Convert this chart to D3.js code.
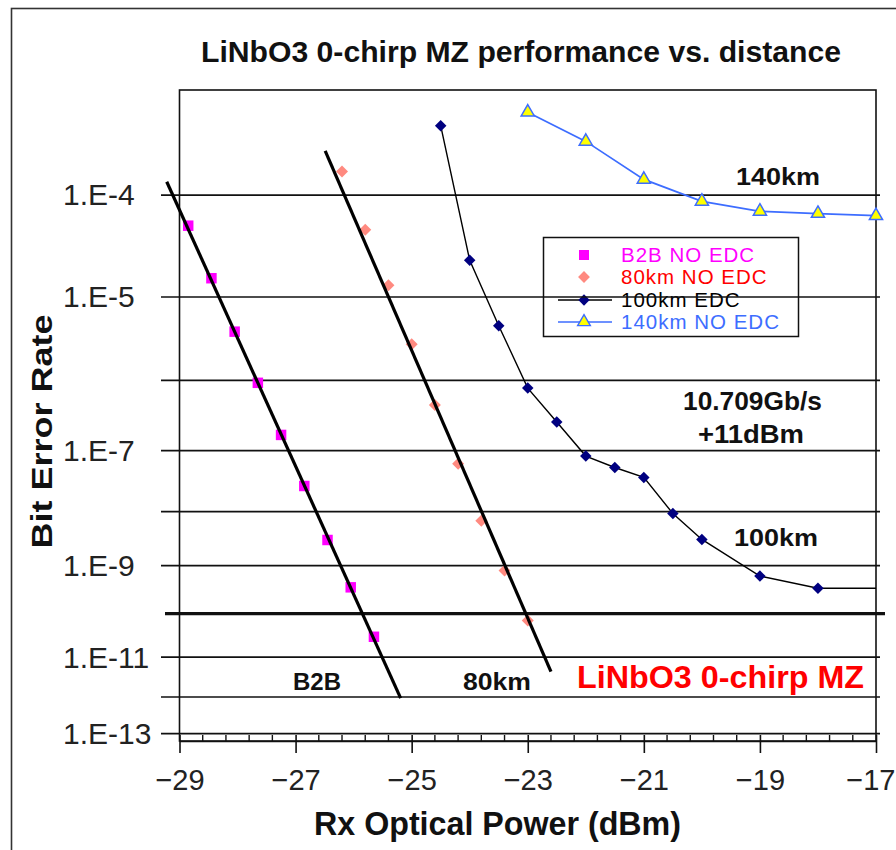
<!DOCTYPE html>
<html>
<head>
<meta charset="utf-8">
<script src="https://cdn.jsdelivr.net/npm/d3@7"></script>
<style>
  body { margin: 0; background: #fff; }
  svg { display: block; }
  text { font-family: "Liberation Sans", Arial, sans-serif; }
</style>
</head>
<body>
<svg id="chart" width="896" height="850"></svg>
<script>
// Received optical power (dBm) and measured bit error rate per link
const b2bPower = [-28.85, -28.45, -28.05, -27.65, -27.25, -26.85, -26.45, -26.05, -25.65];
const b2bBer   = [5.22e-5, 1.57e-5, 3.98e-6, 9.12e-7, 1.70e-7, 2.69e-8, 3.02e-9, 3.55e-10, 2.95e-11];

const km80Power = [-26.2, -25.8, -25.4, -25.0, -24.6, -24.2, -23.8, -23.4, -23.0];
const km80Ber   = [1.57e-4, 4.79e-5, 1.32e-5, 2.82e-6, 4.57e-7, 6.17e-8, 6.76e-9, 7.76e-10, 6.92e-11];

const km100Power = [-24.5, -24, -23.5, -23, -22.5, -22, -21.5, -21, -20.5, -20, -19, -18];
const km100Ber   = [3.63e-4, 2.40e-5, 4.68e-6, 7.76e-7, 2.63e-7, 8.13e-8, 5.37e-8, 3.72e-8, 9.12e-9, 3.09e-9, 6.03e-10, 3.39e-10];

const km140Power = [-23, -22, -21, -20, -19, -18, -17];
const km140Ber   = [4.57e-4, 2.75e-4, 1.35e-4, 8.71e-5, 7.08e-5, 6.76e-5, 6.46e-5];

// Straight-line fits through the B2B and 80 km measurements
const b2bFitPower  = [-29.22, -25.19];
const b2bFitBer    = [1.29e-4, 9.1e-13];
const km80FitPower = [-26.49, -22.60];
const km80FitBer   = [2.31e-4, 4.33e-12];

// Axis ticks
const berTicks      = [1e-4, 1e-5, 1e-6, 1e-7, 1e-8, 1e-9, 1e-10, 1e-11, 1e-12, 1e-13];
const berTickLabels = ["1.E-4", "1.E-5", "", "1.E-7", "", "1.E-9", "", "1.E-11", "", "1.E-13"];
const powerTicks    = [-29, -27, -25, -23, -21, -19, -17];
const powerMinorStep = 0.4;
const refBer = 1e-10;

const seriesNames = ["B2B NO EDC", "80km NO EDC", "100km EDC", "140km NO EDC"];

// ---------------------------------------------------------------
const svg = d3.select("#chart");
const W = 896, H = 850;
const plot = { left: 179.5, right: 876, top: 90, bottom: 741 };

const zip = (xs, ys) => xs.map((p, i) => ({ p, ber: ys[i] }));
const b2b = zip(b2bPower, b2bBer);
const km80 = zip(km80Power, km80Ber);
const km100 = zip(km100Power, km100Ber);
const km140 = zip(km140Power, km140Ber);

// BER axis: linear in log10(-log10(BER))
const q = ber => Math.log10(-Math.log10(ber));
const yq = d3.scaleLinear().domain([0.5027, 1.1215]).range([plot.top, plot.bottom]);
const y = ber => yq(q(ber));
const x = d3.scaleLinear().domain([-29, -17]).range([plot.left, plot.right]);

const COL = {
  b2b: "#ff00ff", km80: "#ff8a80", km80Text: "#ff0000",
  km100: "#000080", km140: "#3d6dff", tri: "#ffff00", red: "#ff0000"
};

// Outer frame
svg.append("rect")
  .attr("x", 11.5).attr("y", 8.5).attr("width", W + 20).attr("height", H + 20)
  .attr("fill", "none").attr("stroke", "#333").attr("stroke-width", 1.6);

// Title
svg.append("text")
  .attr("x", 201).attr("y", 62)
  .attr("font-size", 29).attr("font-weight", "bold").attr("fill", "#111")
  .attr("textLength", 640).attr("lengthAdjust", "spacingAndGlyphs")
  .text("LiNbO3 0-chirp MZ performance vs. distance");

// Legend (transparent box; grid lines run through it)
const lg = svg.append("g");
lg.append("rect")
  .attr("x", 543.5).attr("y", 237.5).attr("width", 255).attr("height", 99)
  .attr("fill", "none").attr("stroke", "#111").attr("stroke-width", 1.5);
const rowY = [255, 277, 300, 322];
const mx = 584;
lg.append("path").attr("d", d3.symbol(d3.symbolSquare, 100)())
  .attr("transform", `translate(${mx},${rowY[0]})`).attr("fill", COL.b2b);
lg.append("path").attr("d", d3.symbol(d3.symbolSquare, 70)())
  .attr("transform", `translate(${mx},${rowY[1]}) rotate(45)`).attr("fill", COL.km80);
lg.append("line").attr("x1", 558).attr("x2", 612).attr("y1", rowY[2]).attr("y2", rowY[2])
  .attr("stroke", "#000").attr("stroke-width", 1.4);
lg.append("path").attr("d", d3.symbol(d3.symbolSquare, 64)())
  .attr("transform", `translate(${mx},${rowY[2]}) rotate(45)`).attr("fill", COL.km100);
lg.append("line").attr("x1", 558).attr("x2", 612).attr("y1", rowY[3]).attr("y2", rowY[3])
  .attr("stroke", COL.km140).attr("stroke-width", 1.6);
lg.append("path").attr("d", d3.symbol(d3.symbolTriangle, 70)())
  .attr("transform", `translate(${mx},${rowY[3]})`)
  .attr("fill", COL.tri).attr("stroke", COL.km140).attr("stroke-width", 1.4);
const legendColors = [COL.b2b, COL.km80Text, "#000", COL.km140];
lg.selectAll("text.lab").data(seriesNames).join("text")
  .attr("class", "lab")
  .attr("x", 621).attr("y", (d, i) => rowY[i]).attr("dy", "0.36em")
  .attr("font-size", 20.5).attr("letter-spacing", 1).attr("fill", (d, i) => legendColors[i])
  .text(d => d);

// Horizontal BER grid lines with outward ticks
const gridLeft = 161, gridRight = 880;
const yAxis = d3.axisLeft(yq)
  .tickValues(berTicks.map(q))
  .tickSize(-(gridRight - gridLeft))
  .tickFormat("");
const gy = svg.append("g").attr("transform", `translate(${gridLeft},0)`).call(yAxis);
gy.select(".domain").remove();
gy.selectAll(".tick line")
  .attr("stroke", "#111")
  .attr("stroke-width", (d, i) => berTicks[i] === refBer ? 3.2 : 1.7)
  .attr("x1", (d, i) => berTicks[i] === refBer ? 4 : 0)
  .attr("x2", (d, i) => berTicks[i] === refBer ? (gridRight - gridLeft) + 5 : (gridRight - gridLeft));

// BER tick labels, left aligned
svg.append("g").selectAll("text").data(berTicks).join("text")
  .attr("x", 63).attr("y", d => y(d)).attr("dy", "0.36em")
  .attr("font-size", 30).attr("fill", "#222")
  .text((d, i) => berTickLabels[i]);

// Plot border
svg.append("rect")
  .attr("x", plot.left).attr("y", plot.top)
  .attr("width", plot.right - plot.left).attr("height", plot.bottom - plot.top)
  .attr("fill", "none").attr("stroke", "#111").attr("stroke-width", 1.6);

// Power axis: major ticks cross the axis line, minor ticks point inward
const xAxis = d3.axisBottom(x).tickValues(powerTicks).tickSize(12).tickSizeOuter(0)
  .tickFormat(d3.format("d")).tickPadding(14);
const gx = svg.append("g").attr("transform", `translate(0,${plot.bottom})`).call(xAxis);
gx.select(".domain").attr("stroke", "#111").attr("stroke-width", 1.6);
gx.selectAll(".tick line").attr("y1", -6).attr("stroke", "#111").attr("stroke-width", 1.6);
gx.selectAll(".tick text")
  .attr("font-family", "'Liberation Sans', Arial, sans-serif")
  .attr("font-size", 29).attr("fill", "#222").attr("dy", "0.8em")
  .each(function (d) {
    // keep the last label inside the page edge
    const half = this.getComputedTextLength() / 2;
    const over = x(d) + half - (W - 1);
    if (over > 0) d3.select(this).attr("x", -over);
  });
const minor = d3.range(-29, -17 + 1e-9, powerMinorStep)
  .filter(v => !powerTicks.some(t => Math.abs(t - v) < 1e-6));
gx.selectAll("line.minor").data(minor).join("line")
  .attr("class", "minor")
  .attr("x1", d => x(d)).attr("x2", d => x(d))
  .attr("y1", -6).attr("y2", 0)
  .attr("stroke", "#111").attr("stroke-width", 1.4);

// Axis titles
svg.append("text")
  .attr("x", 314).attr("y", 835)
  .attr("font-size", 33).attr("font-weight", "bold").attr("fill", "#111")
  .attr("textLength", 367).attr("lengthAdjust", "spacingAndGlyphs")
  .text("Rx Optical Power (dBm)");
svg.append("text")
  .attr("transform", "translate(51.5,431.5) rotate(-90)")
  .attr("text-anchor", "middle")
  .attr("font-size", 30).attr("font-weight", "bold").attr("fill", "#111")
  .attr("textLength", 234).attr("lengthAdjust", "spacingAndGlyphs")
  .text("Bit Error Rate");

// Series lines
const line = d3.line().x(d => x(d.p)).y(d => y(d.ber));
const km100Line = km100.concat([{ p: x.domain()[1], ber: km100[km100.length - 1].ber }]);
svg.append("path").attr("d", line(km100Line))
  .attr("fill", "none").attr("stroke", "#000").attr("stroke-width", 1.4);
svg.append("path").attr("d", line(km140))
  .attr("fill", "none").attr("stroke", COL.km140).attr("stroke-width", 1.7);

// Markers
svg.append("g").selectAll("path").data(b2b).join("path")
  .attr("d", d3.symbol(d3.symbolSquare, 110)())
  .attr("transform", d => `translate(${x(d.p)},${y(d.ber)})`)
  .attr("fill", COL.b2b);
svg.append("g").selectAll("path").data(km80).join("path")
  .attr("d", d3.symbol(d3.symbolSquare, 72)())
  .attr("transform", d => `translate(${x(d.p)},${y(d.ber)}) rotate(45)`)
  .attr("fill", COL.km80);
svg.append("g").selectAll("path").data(km100).join("path")
  .attr("d", d3.symbol(d3.symbolSquare, 66)())
  .attr("transform", d => `translate(${x(d.p)},${y(d.ber)}) rotate(45)`)
  .attr("fill", COL.km100);
svg.append("g").selectAll("path").data(km140).join("path")
  .attr("d", d3.symbol(d3.symbolTriangle, 75)())
  .attr("transform", d => `translate(${x(d.p)},${y(d.ber)})`)
  .attr("fill", COL.tri).attr("stroke", COL.km140).attr("stroke-width", 1.5);

// Fit lines (drawn over the markers)
svg.append("path").attr("d", line(zip(b2bFitPower, b2bFitBer)))
  .attr("fill", "none").attr("stroke", "#000").attr("stroke-width", 3.2);
svg.append("path").attr("d", line(zip(km80FitPower, km80FitBer)))
  .attr("fill", "none").attr("stroke", "#000").attr("stroke-width", 3.2);

// Annotations
const notes = [
  { t: "140km",      x: 736, y: 185, w: 84,  s: 24 },
  { t: "10.709Gb/s", x: 683, y: 410, w: 139, s: 25 },
  { t: "+11dBm",     x: 698, y: 443, w: 106, s: 25 },
  { t: "100km",      x: 734, y: 546, w: 84,  s: 24 },
  { t: "B2B",        x: 293, y: 690, w: 48,  s: 24 },
  { t: "80km",       x: 463, y: 690, w: 68,  s: 24 }
];
svg.append("g").selectAll("text").data(notes).join("text")
  .attr("x", d => d.x).attr("y", d => d.y)
  .attr("font-size", d => d.s).attr("font-weight", "bold").attr("fill", "#111")
  .attr("textLength", d => d.w).attr("lengthAdjust", "spacingAndGlyphs")
  .text(d => d.t);
svg.append("text")
  .attr("x", 577).attr("y", 688)
  .attr("font-size", 32).attr("font-weight", "bold").attr("fill", COL.red)
  .attr("textLength", 287).attr("lengthAdjust", "spacingAndGlyphs")
  .text("LiNbO3 0-chirp MZ");
</script>
</body>
</html>
